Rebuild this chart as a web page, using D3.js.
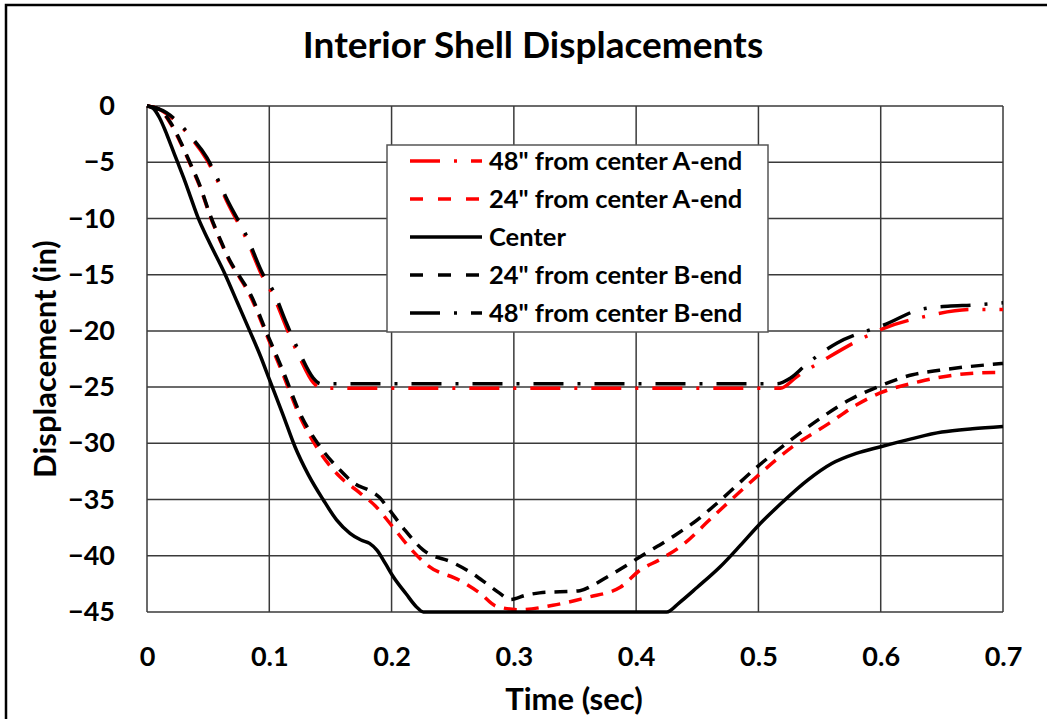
<!DOCTYPE html>
<html>
<head>
<meta charset="utf-8">
<script src="https://cdn.jsdelivr.net/npm/d3@7"></script>
<style>
  body { margin: 0; background: #fff; }
  svg { display: block; font-family: Lato, "Open Sans", sans-serif; font-weight: bold; }
</style>
</head>
<body>
<div id="chart"></div>
<script>
// series values: [time (sec), displacement (in)]
const a48 = [[0,0],[0.008,-0.2],[0.016,-0.7],[0.025,-1.5],[0.035,-2.7],[0.049,-4.8],[0.057,-6.5],[0.065,-8.4],[0.082,-12.0],[0.095,-15.3],[0.103,-16.8],[0.114,-19.7],[0.125,-22.4],[0.136,-24.6],[0.143,-25.1],[0.518,-25.1],[0.531,-24.1],[0.558,-22.3],[0.588,-20.5],[0.602,-19.8],[0.637,-18.7],[0.675,-18.1],[0.7,-18.1]];
const a24 = [[0,0],[0.01,-0.3],[0.02,-1.7],[0.028,-3.4],[0.035,-5.1],[0.043,-7.1],[0.052,-9.9],[0.06,-12.0],[0.068,-13.9],[0.076,-15.3],[0.084,-16.8],[0.098,-20.4],[0.111,-23.8],[0.125,-27.6],[0.1415,-30.8],[0.158,-33.0],[0.174,-34.4],[0.187,-35.6],[0.2,-37.3],[0.215,-39.3],[0.23,-40.9],[0.256,-42.2],[0.272,-43.3],[0.286,-44.5],[0.305,-44.8],[0.332,-44.4],[0.36,-43.7],[0.387,-42.8],[0.403,-41.3],[0.42,-40.3],[0.436,-39.2],[0.463,-36.5],[0.49,-33.8],[0.528,-30.3],[0.558,-28.2],[0.58,-26.6],[0.6,-25.5],[0.632,-24.5],[0.662,-23.9],[0.692,-23.7],[0.7,-23.7]];
const center = [[0,0],[0.005,-0.2],[0.01,-1.0],[0.015,-2.2],[0.02,-3.6],[0.025,-5.0],[0.03,-6.4],[0.035,-7.9],[0.042,-10.0],[0.05,-11.9],[0.064,-15.0],[0.074,-17.5],[0.084,-20.0],[0.093,-22.3],[0.1,-24.3],[0.111,-27.4],[0.121,-30.3],[0.132,-32.8],[0.144,-35.0],[0.155,-36.8],[0.166,-38.0],[0.175,-38.6],[0.182,-38.9],[0.188,-39.5],[0.195,-40.7],[0.201,-41.8],[0.212,-43.4],[0.22,-44.5],[0.226,-45],[0.425,-45],[0.435,-44.2],[0.45,-42.8],[0.4685,-41],[0.485,-39.1],[0.5,-37.3],[0.52,-35.2],[0.54,-33.3],[0.56,-31.8],[0.58,-30.9],[0.6,-30.3],[0.625,-29.6],[0.65,-29.0],[0.675,-28.7],[0.7,-28.5]];
const b24 = [[0,0],[0.01,-0.3],[0.02,-1.6],[0.028,-3.3],[0.035,-5.0],[0.043,-7.0],[0.052,-9.8],[0.06,-11.9],[0.068,-13.8],[0.076,-15.2],[0.084,-16.6],[0.098,-20.2],[0.111,-23.5],[0.125,-27.3],[0.1415,-30.3],[0.158,-32.4],[0.17,-33.6],[0.182,-34.2],[0.19,-34.8],[0.196,-35.6],[0.21,-37.6],[0.226,-39.5],[0.25,-40.6],[0.265,-41.5],[0.278,-42.5],[0.288,-43.3],[0.297,-43.9],[0.31,-43.5],[0.321,-43.3],[0.354,-43.1],[0.365,-42.6],[0.376,-41.9],[0.39,-41.0],[0.403,-40.1],[0.43,-38.3],[0.45,-36.8],[0.4685,-35.1],[0.5,-32.0],[0.523,-30.0],[0.553,-27.6],[0.575,-26.1],[0.597,-25.0],[0.626,-23.9],[0.648,-23.5],[0.67,-23.2],[0.7,-22.9]];
const b48 = [[0,0],[0.008,-0.2],[0.016,-0.6],[0.025,-1.4],[0.035,-2.6],[0.049,-4.6],[0.057,-6.3],[0.065,-8.2],[0.082,-11.7],[0.095,-15.0],[0.103,-16.4],[0.114,-19.3],[0.125,-22.0],[0.136,-24.2],[0.142,-24.7],[0.515,-24.7],[0.526,-24.2],[0.539,-23.0],[0.564,-21.1],[0.594,-19.8],[0.602,-19.5],[0.632,-18.1],[0.655,-17.8],[0.675,-17.7],[0.7,-17.5]];

const seriesNames = ['48" from center A-end', '24" from center A-end', 'Center', '24" from center B-end', '48" from center B-end'];
const seriesData = [a48, a24, center, b24, b48];
const seriesColors = ["#ff0000", "#ff0000", "#000000", "#000000", "#000000"];
const seriesDash = ["30,14,3,14", "13,9", null, "13,9", "30,14,3,14"];

const xTicks = [0, 0.1, 0.2, 0.3, 0.4, 0.5, 0.6, 0.7];
const yTicks = [0, -5, -10, -15, -20, -25, -30, -35, -40, -45];

const width = 1047, height = 719;
const plot = {left: 147, right: 1003, top: 106, bottom: 612};

const svg = d3.select("#chart").append("svg")
    .attr("width", width)
    .attr("height", height);

const x = d3.scaleLinear().domain([0, 0.7]).range([plot.left, plot.right]);
const y = d3.scaleLinear().domain([0, -45]).range([plot.top, plot.bottom]);

// outer frame (only left and top edges show in the picture)
svg.append("path")
    .attr("d", `M6,${height} L6,5 L${width},5`)
    .attr("fill", "none")
    .attr("stroke", "#000")
    .attr("stroke-width", 2.5);

svg.append("text")
    .attr("x", 533)
    .attr("y", 58)
    .attr("text-anchor", "middle")
    .style("font-size", "37px")
    .text("Interior Shell Displacements");

// grid
const grid = svg.append("g").attr("stroke", "#3a3a3a").attr("stroke-width", 1.5);
grid.selectAll(".vx").data(xTicks).enter().append("line")
    .attr("x1", d => x(d)).attr("x2", d => x(d))
    .attr("y1", plot.top).attr("y2", plot.bottom);
grid.selectAll(".hy").data(yTicks).enter().append("line")
    .attr("x1", plot.left).attr("x2", plot.right)
    .attr("y1", d => y(d)).attr("y2", d => y(d));

// axes labels via d3 axes, lines hidden
const xAxis = svg.append("g")
    .attr("transform", `translate(0,${plot.bottom})`)
    .call(d3.axisBottom(x).tickValues(xTicks).tickSize(0).tickPadding(45).tickFormat(d3.format("")));
const yAxis = svg.append("g")
    .attr("transform", `translate(${plot.left},0)`)
    .call(d3.axisLeft(y).tickValues(yTicks).tickSize(0).tickPadding(32).tickFormat(d3.format("")));
[xAxis, yAxis].forEach(a => {
    a.select(".domain").remove();
    a.selectAll("text")
        .attr("fill", "#000")
        .style("font-family", "Lato, 'Open Sans', sans-serif")
        .style("font-weight", "bold")
        .style("font-size", "27px");
});
xAxis.selectAll("text").attr("dy", "0.35em");

svg.append("text")
    .attr("x", 574)
    .attr("y", 710)
    .attr("text-anchor", "middle")
    .style("font-size", "31px")
    .text("Time (sec)");

svg.append("text")
    .attr("transform", "translate(56,359) rotate(-90)")
    .attr("text-anchor", "middle")
    .style("font-size", "31px")
    .text("Displacement (in)");

// series
const line = d3.line()
    .x(d => x(d[0]))
    .y(d => y(d[1]))
    .curve(d3.curveMonotoneX);

svg.append("g").selectAll("path")
    .data(seriesData)
    .enter().append("path")
    .attr("d", line)
    .attr("fill", "none")
    .attr("stroke", (d, i) => seriesColors[i])
    .attr("stroke-width", 3.5)
    .attr("stroke-dasharray", (d, i) => seriesDash[i]);

// legend
const legend = svg.append("g").attr("transform", "translate(387,145)");
legend.append("rect")
    .attr("width", 381)
    .attr("height", 187)
    .attr("fill", "#fff")
    .attr("stroke", "#555")
    .attr("stroke-width", 1.5);

const item = legend.selectAll(".item")
    .data(seriesNames)
    .enter().append("g")
    .attr("transform", (d, i) => `translate(0,${16 + i * 38})`);
item.append("line")
    .attr("x1", 23).attr("x2", 95)
    .attr("stroke", (d, i) => seriesColors[i])
    .attr("stroke-width", 3.5)
    .attr("stroke-dasharray", (d, i) => seriesDash[i] ? (i % 4 === 0 ? "30,14,3,14" : "13,15") : null);
item.append("text")
    .attr("x", 102)
    .attr("dy", "0.35em")
    .style("font-size", "25.5px")
    .text(d => d);
</script>
</body>
</html>
